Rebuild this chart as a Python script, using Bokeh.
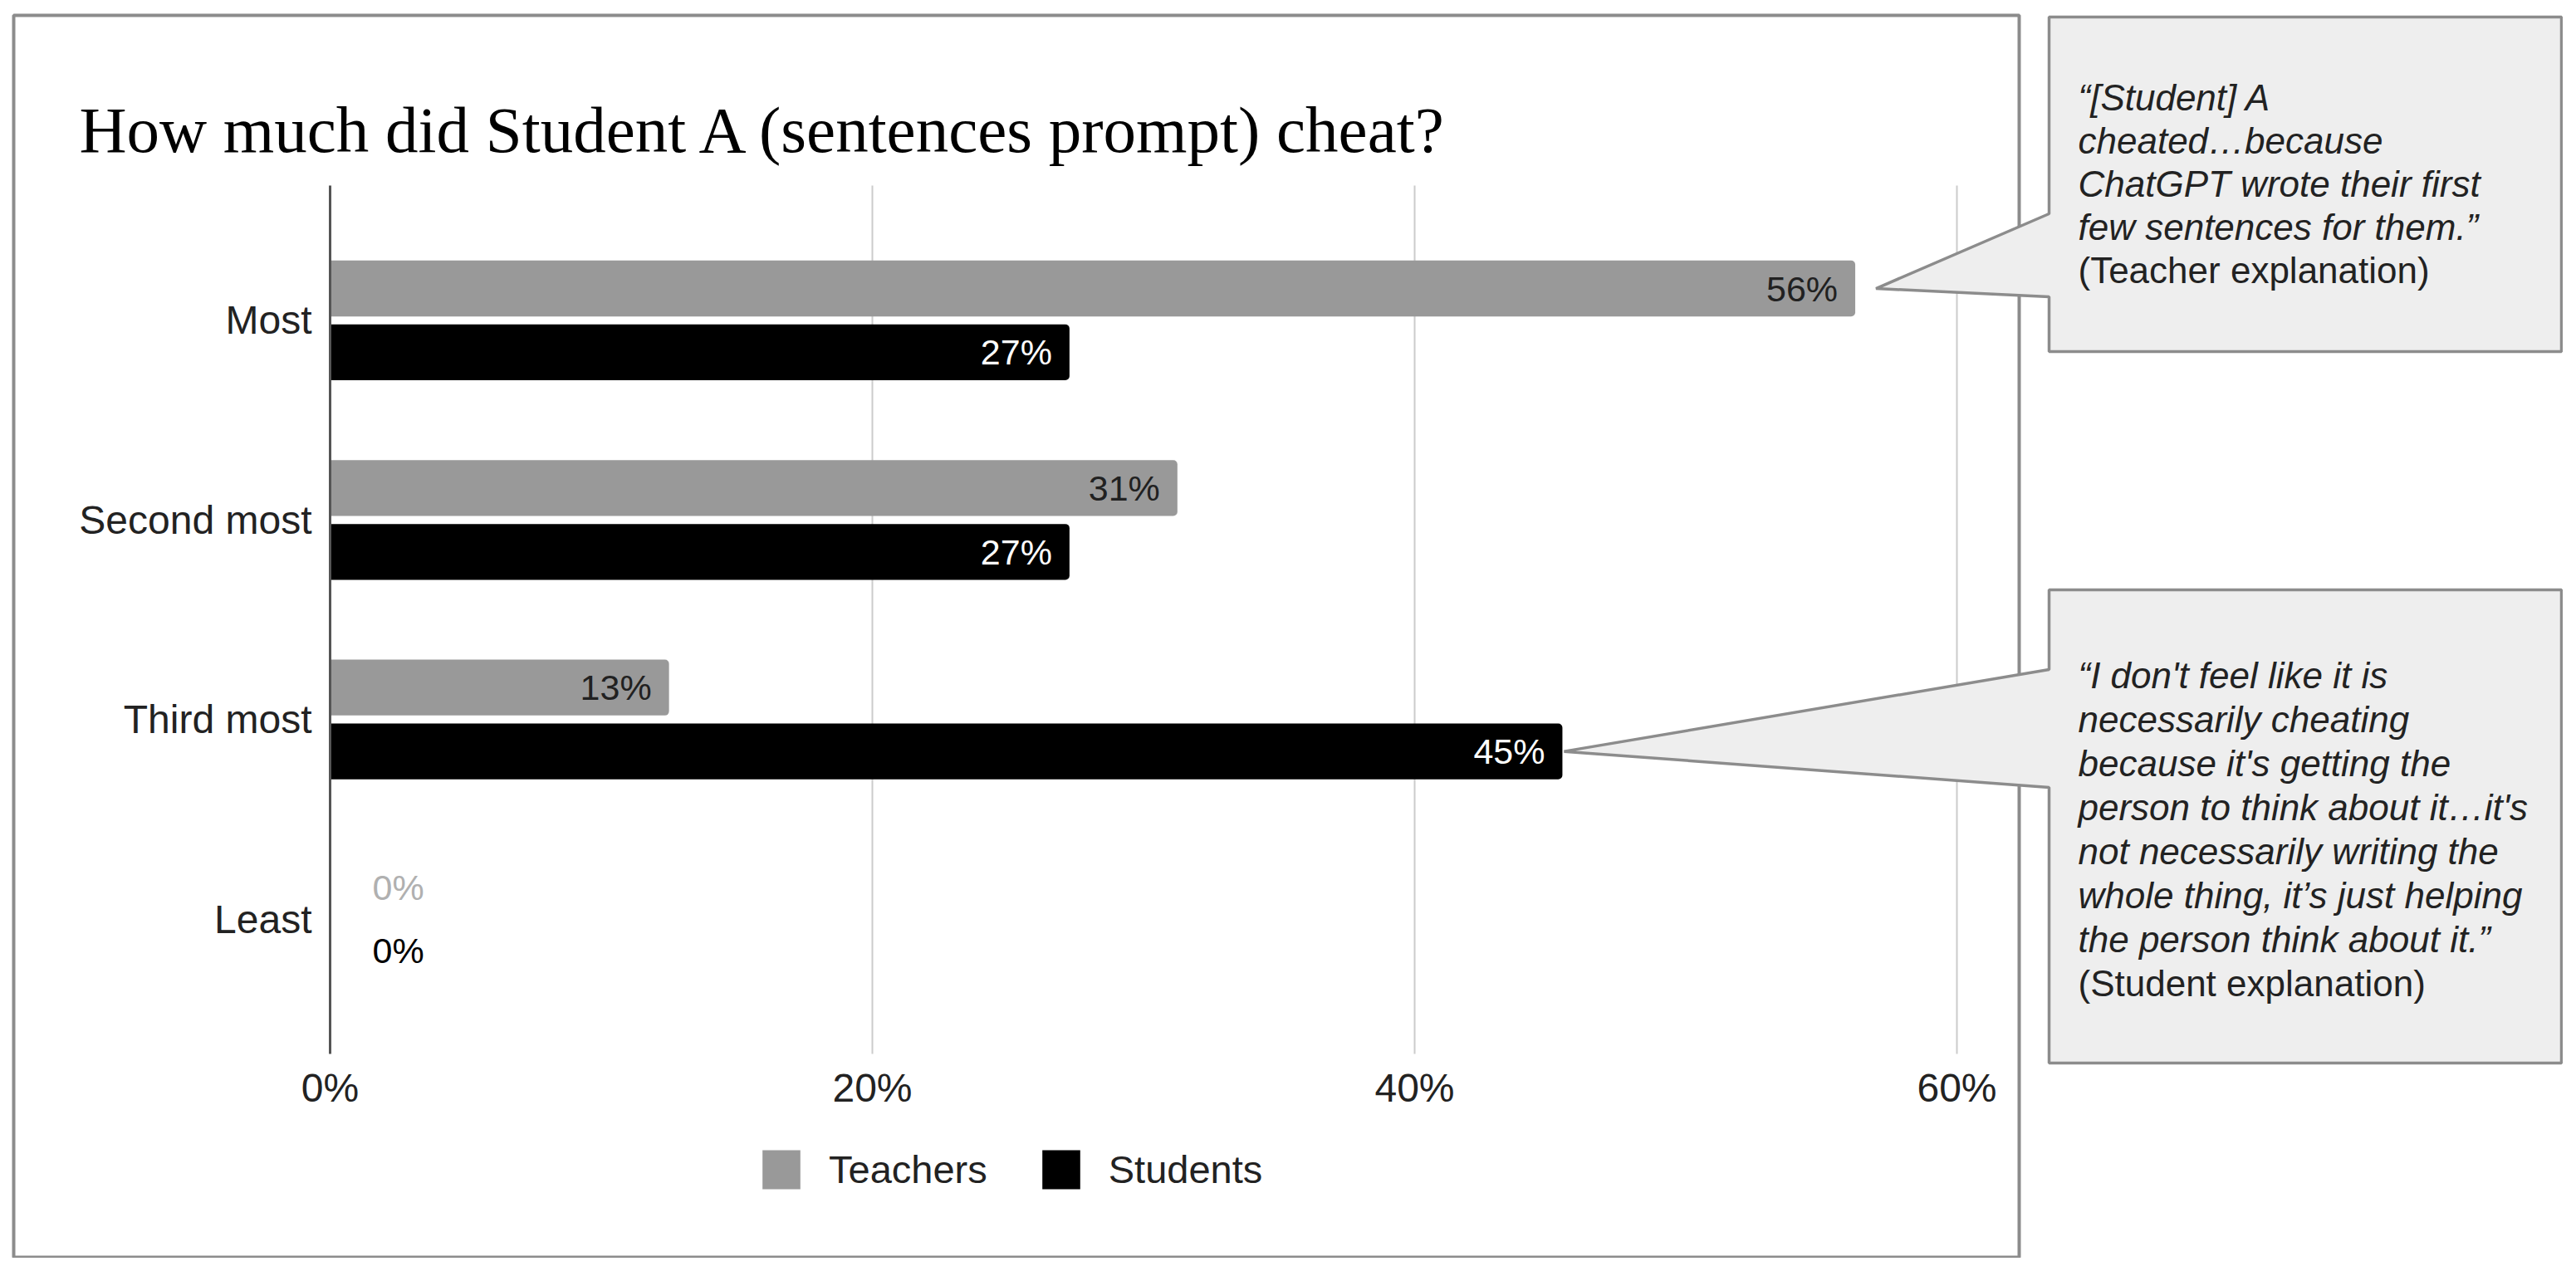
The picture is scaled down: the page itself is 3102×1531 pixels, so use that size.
from bokeh.plotting import figure
from bokeh.models import (Range1d, FixedTicker, NumeralTickFormatter, ColumnDataSource, Label,
                          PolyAnnotation, BoxAnnotation, Legend, LegendItem)
from bokeh.transform import dodge
from bokeh.embed import file_html
from bokeh.resources import INLINE
from bokeh.core.properties import value

# ---------------- data ----------------
title_text = "How much did Student A (sentences prompt) cheat?"
categories = ["Most", "Second most", "Third most", "Least"]
teachers = [0.5625, 0.3125, 0.125, 0.0]
students = [0.2727, 0.2727, 0.4545, 0.0]
series_names = ["Teachers", "Students"]
x_ticks = [0.0, 0.2, 0.4, 0.6]

teacher_quote = ["\u201c[Student] A", "cheated\u2026because", "ChatGPT wrote their first",
                 "few sentences for them.\u201d"]
teacher_source = "(Teacher explanation)"
student_quote = ["\u201cI don't feel like it is", "necessarily cheating", "because it's getting the",
                 "person to think about it\u2026it's", "not necessarily writing the",
                 "whole thing, it\u2019s just helping", "the person think about it.\u201d"]
student_source = "(Student explanation)"

# ---------------- geometry (canvas px) ----------------
W, H = 3086, 1515
FL, FT, FB = 397, 223, 1269          # plot-area edges (axis at 0%, grid top, grid bottom)
PPX = 3265.0                         # px per 1.0 (=100%)
Y_TOP, Y_BOT = -0.676, 3.676         # data y at plot-area top / bottom
PPY = (FB - FT) / (Y_BOT - Y_TOP)
OFF = 0.16
BAR_H = 0.28


def sx2d(sx):
    return (sx - FL) / PPX


def sy2d(sy):
    return Y_TOP + (sy - FT) / PPY


p = figure(width=W, height=H, output_backend="svg", toolbar_location=None, title=None,
           x_range=Range1d(sx2d(0), sx2d(W)), y_range=Range1d(sy2d(H), sy2d(0)),
           min_border=0, min_border_left=0, min_border_right=0, min_border_top=0,
           min_border_bottom=0)
p.outline_line_color = None
p.background_fill_color = "white"
p.border_fill_color = "white"
p.xgrid.visible = False
p.ygrid.visible = False

# axes (drawn inside the canvas at fixed locations)
xa = p.xaxis[0]
xa.fixed_location = sy2d(FB)
xa.ticker = FixedTicker(ticks=x_ticks)
xa.formatter = NumeralTickFormatter(format="0%")
xa.axis_line_color = None
xa.major_tick_line_color = None
xa.minor_tick_line_color = None
xa.major_tick_out = 0
xa.major_tick_in = 0
xa.major_label_standoff = 14
xa.major_label_text_font = "Liberation Sans"
xa.major_label_text_font_size = "48px"
xa.major_label_text_color = "#222222"

ya = p.yaxis[0]
ya.fixed_location = 0
ya.bounds = (sy2d(FT), sy2d(FB))
ya.ticker = FixedTicker(ticks=list(range(len(categories))))
ya.major_label_overrides = {i: c for i, c in enumerate(categories)}
ya.axis_line_color = "#555555"
ya.axis_line_width = 3
ya.major_tick_line_color = None
ya.minor_tick_line_color = None
ya.major_tick_out = 0
ya.major_tick_in = 0
ya.major_label_standoff = 22
ya.major_label_text_font = "Liberation Sans"
ya.major_label_text_font_size = "48px"
ya.major_label_text_color = "#222222"

# outer chart border
p.add_layout(BoxAnnotation(left=sx2d(16), right=sx2d(2431), top=sy2d(18), bottom=sy2d(1514),
                           fill_alpha=0, line_color="#8c8c8c", line_alpha=1, line_width=4,
                           level="underlay"))

# vertical gridlines at the x ticks
gx = x_ticks[1:]
p.segment(x0=gx, x1=gx, y0=[sy2d(FT)] * len(gx), y1=[sy2d(FB)] * len(gx),
          line_color="#cccccc", line_width=2)


def lbl(v):
    return "%d%%" % int(v * 100 + 0.5)


src = ColumnDataSource(dict(
    idx=list(range(len(categories))),
    teachers=teachers, students=students,
    t_lbl=[lbl(v) for v in teachers], s_lbl=[lbl(v) for v in students],
    t_align=["right" if v > 0.02 else "left" for v in teachers],
    s_align=["right" if v > 0.02 else "left" for v in students],
    t_off=[-21 if v > 0.02 else 51 for v in teachers],
    s_off=[-21 if v > 0.02 else 51 for v in students],
    t_col=["#212121" if v > 0.02 else "#b0b0b0" for v in teachers],
    s_col=["#ffffff" if v > 0.02 else "#000000" for v in students],
))

r_t = p.hbar(y=dodge("idx", -OFF, range=p.y_range), left=0, right="teachers", height=BAR_H,
             fill_color="#999999", line_color=None, source=src, border_radius=(0, 5, 5, 0))
r_s = p.hbar(y=dodge("idx", OFF, range=p.y_range), left=0, right="students", height=BAR_H,
             fill_color="#000000", line_color=None, source=src, border_radius=(0, 5, 5, 0))

p.text(x="teachers", y=dodge("idx", -OFF, range=p.y_range), text="t_lbl", source=src,
       text_align="t_align", x_offset="t_off", text_color="t_col", text_baseline="middle",
       text_font=value("Liberation Sans"), text_font_size="43px")
p.text(x="students", y=dodge("idx", OFF, range=p.y_range), text="s_lbl", source=src,
       text_align="s_align", x_offset="s_off", text_color="s_col", text_baseline="middle",
       text_font=value("Liberation Sans"), text_font_size="43px")

legend = Legend(items=[LegendItem(label=series_names[0], renderers=[r_t]),
                       LegendItem(label=series_names[1], renderers=[r_s])],
                orientation="horizontal", location=(912, H - 1438),
                glyph_width=57, glyph_height=59, label_standoff=29, spacing=60,
                padding=0, margin=0, border_line_color=None, background_fill_alpha=0,
                label_text_font="Liberation Sans", label_text_font_size="47px",
                label_text_color="#222222")
p.add_layout(legend)

# title
p.add_layout(Label(x=sx2d(95), y=sy2d(156), text=title_text, text_font="Liberation Serif",
                   text_font_size="79px", text_color="#000000", text_baseline="alphabetic"))

# callouts
BX0, BX1 = 2467, 3084


def callout(top, bottom, att_top, att_bot, tip_x, tip_y):
    xs = [sx2d(BX0), sx2d(BX1), sx2d(BX1), sx2d(BX0), sx2d(BX0), tip_x, sx2d(BX0)]
    ys = [sy2d(top), sy2d(top), sy2d(bottom), sy2d(bottom), sy2d(att_bot), tip_y, sy2d(att_top)]
    p.add_layout(PolyAnnotation(xs=xs, ys=ys, fill_color="#eeeeee", fill_alpha=1,
                                line_color="#8c8c8c", line_alpha=1, line_width=3.5))


callout(20, 423, 257, 357, teachers[0] + 25 / PPX, 0 - OFF)
callout(710, 1280, 806, 948, students[2] + 2 / PPX, 2 + OFF)


def text_lines(lines, source, y0, step):
    for i, t in enumerate(lines + [source]):
        p.add_layout(Label(x=sx2d(2502), y=sy2d(y0 + step * i), text=t,
                           text_font="Liberation Sans", text_font_size="44px",
                           text_font_style="italic" if i < len(lines) else "normal",
                           text_color="#222222", text_baseline="middle"))


text_lines(teacher_quote, teacher_source, 117, 52)
text_lines(student_quote, student_source, 813, 53)

open("out.html", "w").write(file_html(p, INLINE))
